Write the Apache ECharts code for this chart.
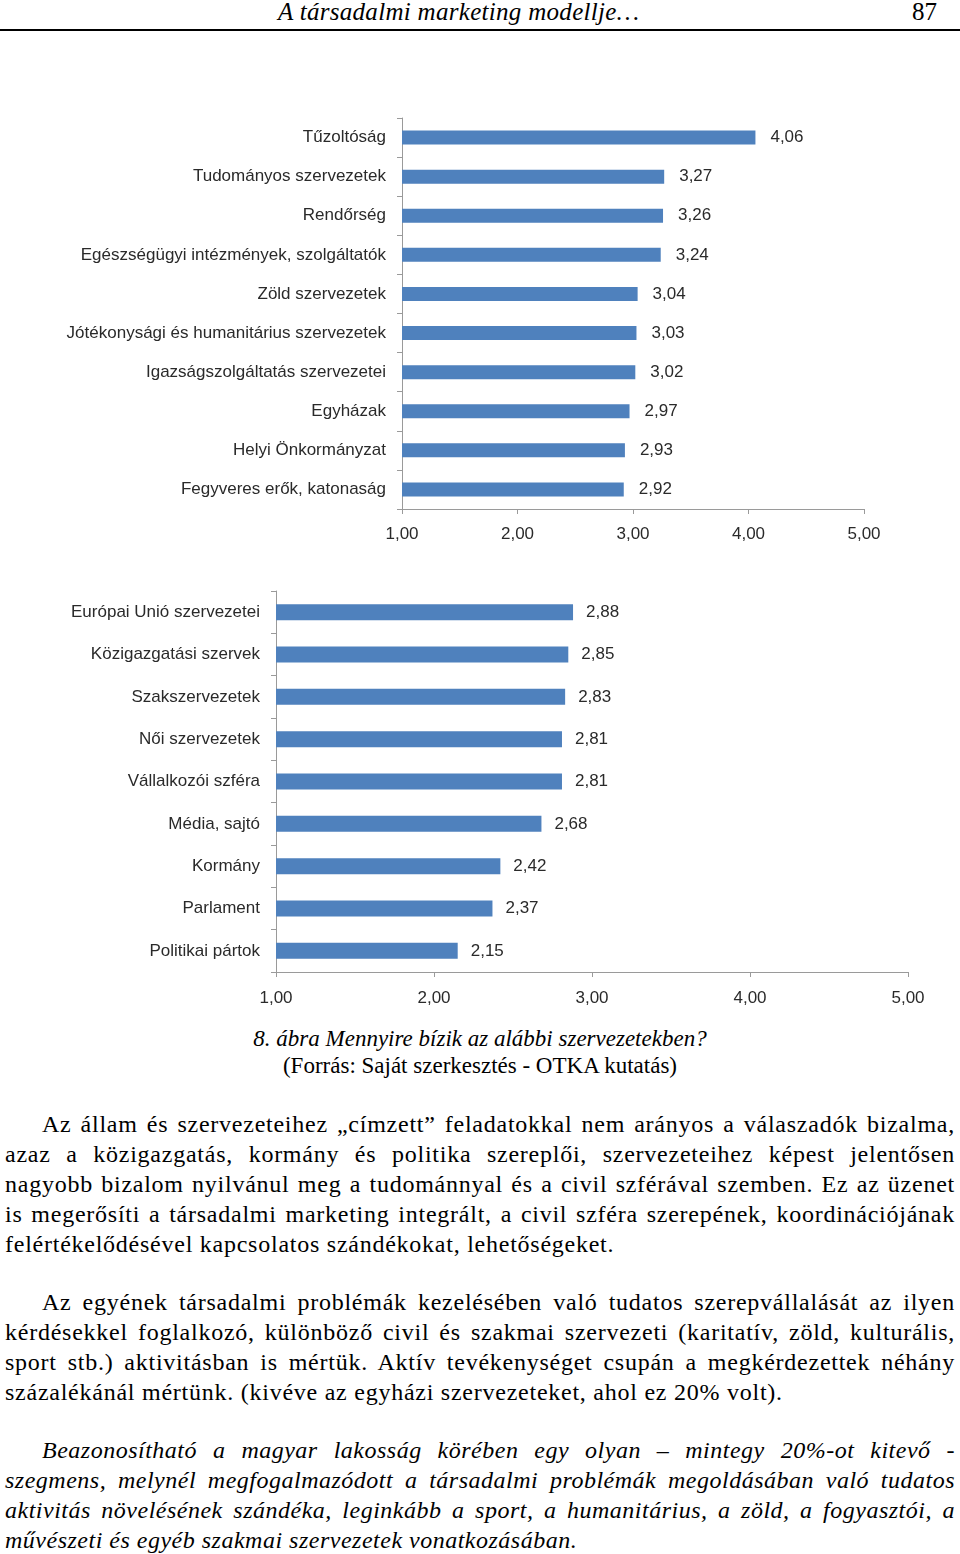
<!DOCTYPE html>
<html>
<head>
<meta charset="utf-8">
<script src="https://cdn.jsdelivr.net/npm/echarts@6/dist/echarts.min.js"></script>
<style>
  html, body { margin: 0; padding: 0; background: #fff; }
  body { width: 960px; height: 1554px; position: relative; overflow: hidden; }
  #chart { position: absolute; left: 0; top: 0; width: 960px; height: 1020px; }
  .hdr { position: absolute; top: -2px; font-family: "Liberation Serif", serif; font-size: 25px; color: #000; }
  .rule { position: absolute; left: 0; top: 29px; width: 960px; height: 2px; background: #000; }
  .cap { position: absolute; left: 0; width: 960px; text-align: center; font-family: "Liberation Serif", serif; font-size: 23px; color: #000; }
  .txt { position: absolute; left: 5px; width: 950px; font-family: "Liberation Serif", serif; font-size: 24px; letter-spacing: 0.75px; line-height: 30px; text-align: justify; color: #000; margin: 0; text-indent: 37px; }
  .txt.it { font-style: italic; letter-spacing: 0.5px; }
</style>
</head>
<body>
<div class="hdr" style="left:278px;font-style:italic;letter-spacing:0.3px;">A társadalmi marketing modellje…</div>
<div class="hdr" style="left:912px;">87</div>
<div class="rule"></div>
<div id="chart"></div>
<div class="cap" style="top:1026px;font-style:italic;">8. ábra Mennyire bízik az alábbi szervezetekben?</div>
<div class="cap" style="top:1053px;">(Forrás: Saját szerkesztés - OTKA kutatás)</div>
<p class="txt" style="top:1109px;">Az állam és szervezeteihez „címzett” feladatokkal nem arányos a válaszadók bizalma, azaz a közigazgatás, kormány és politika szereplői, szervezeteihez képest jelentősen nagyobb bizalom nyilvánul meg a tudománnyal és a civil szférával szemben. Ez az üzenet is megerősíti a társadalmi marketing integrált, a civil szféra szerepének, koordinációjának felértékelődésével kapcsolatos szándékokat, lehetőségeket.</p>
<p class="txt" style="top:1287px;">Az egyének társadalmi problémák kezelésében való tudatos szerepvállalását az ilyen kérdésekkel foglalkozó, különböző civil és szakmai szervezeti (karitatív, zöld, kulturális, sport stb.) aktivitásban is mértük. Aktív tevékenységet csupán a megkérdezettek néhány százalékánál mértünk. (kivéve az egyházi szervezeteket, ahol ez 20% volt).</p>
<p class="txt it" style="top:1435px;">Beazonosítható a magyar lakosság körében egy olyan – mintegy 20%-ot kitevő - szegmens, melynél megfogalmazódott a társadalmi problémák megoldásában való tudatos aktivitás növelésének szándéka, leginkább a sport, a humanitárius, a zöld, a fogyasztói, a művészeti és egyéb szakmai szervezetek vonatkozásában.</p>
<script>
var cats1 = ['Tűzoltóság','Tudományos szervezetek','Rendőrség','Egészségügyi intézmények, szolgáltatók','Zöld szervezetek','Jótékonysági és humanitárius szervezetek','Igazságszolgáltatás szervezetei','Egyházak','Helyi Önkormányzat','Fegyveres erők, katonaság'];
var vals1 = [4.06,3.27,3.26,3.24,3.04,3.03,3.02,2.97,2.93,2.92];
var cats2 = ['Európai Unió szervezetei','Közigazgatási szervek','Szakszervezetek','Női szervezetek','Vállalkozói szféra','Média, sajtó','Kormány','Parlament','Politikai pártok'];
var vals2 = [2.88,2.85,2.83,2.81,2.81,2.68,2.42,2.37,2.15];
var axisMin = 1, axisMax = 5, axisStep = 1;

function comma(v) { return Number(v).toFixed(2).replace('.', ','); }
var FONT = 'Liberation Sans';
var TXT = '#2a2a2a';
var AX = '#9a9a9a';
var BAR = '#4F81BD';

function valAxis(idx, m) {
  return {
    type: 'value', gridIndex: idx, min: axisMin, max: axisMax, interval: axisStep,
    axisLine: { show: true, lineStyle: { color: AX, width: 1 } },
    axisTick: { show: true, length: 5, lineStyle: { color: AX } },
    splitLine: { show: false },
    axisLabel: { formatter: comma, color: TXT, fontFamily: FONT, fontSize: 17, margin: m }
  };
}
function catAxis(idx, cats) {
  return {
    type: 'category', gridIndex: idx, data: cats, inverse: true,
    axisLine: { show: true, lineStyle: { color: AX, width: 1 } },
    axisTick: { show: true, length: 5, lineStyle: { color: AX } },
    axisLabel: { color: TXT, fontFamily: FONT, fontSize: 17, margin: 16 }
  };
}
function barSeries(idx, vals, w, dist) {
  return {
    type: 'bar', xAxisIndex: idx, yAxisIndex: idx, data: vals, barWidth: w,
    itemStyle: { color: BAR },
    clip: true,
    label: { show: true, position: 'right', distance: dist, formatter: function (p) { return comma(p.value); },
             color: TXT, fontFamily: FONT, fontSize: 17 }
  };
}

var chart = echarts.init(document.getElementById('chart'), null, { renderer: 'canvas' });
chart.setOption({
  animation: false,
  grid: [
    { left: 402, width: 462, top: 118, height: 391 },
    { left: 276, width: 632, top: 591, height: 381 }
  ],
  xAxis: [valAxis(0, 17), valAxis(1, 18)],
  yAxis: [catAxis(0, cats1), catAxis(1, cats2)],
  series: [barSeries(0, vals1, 14, 15), barSeries(1, vals2, 16, 13)]
});
</script>
</body>
</html>
